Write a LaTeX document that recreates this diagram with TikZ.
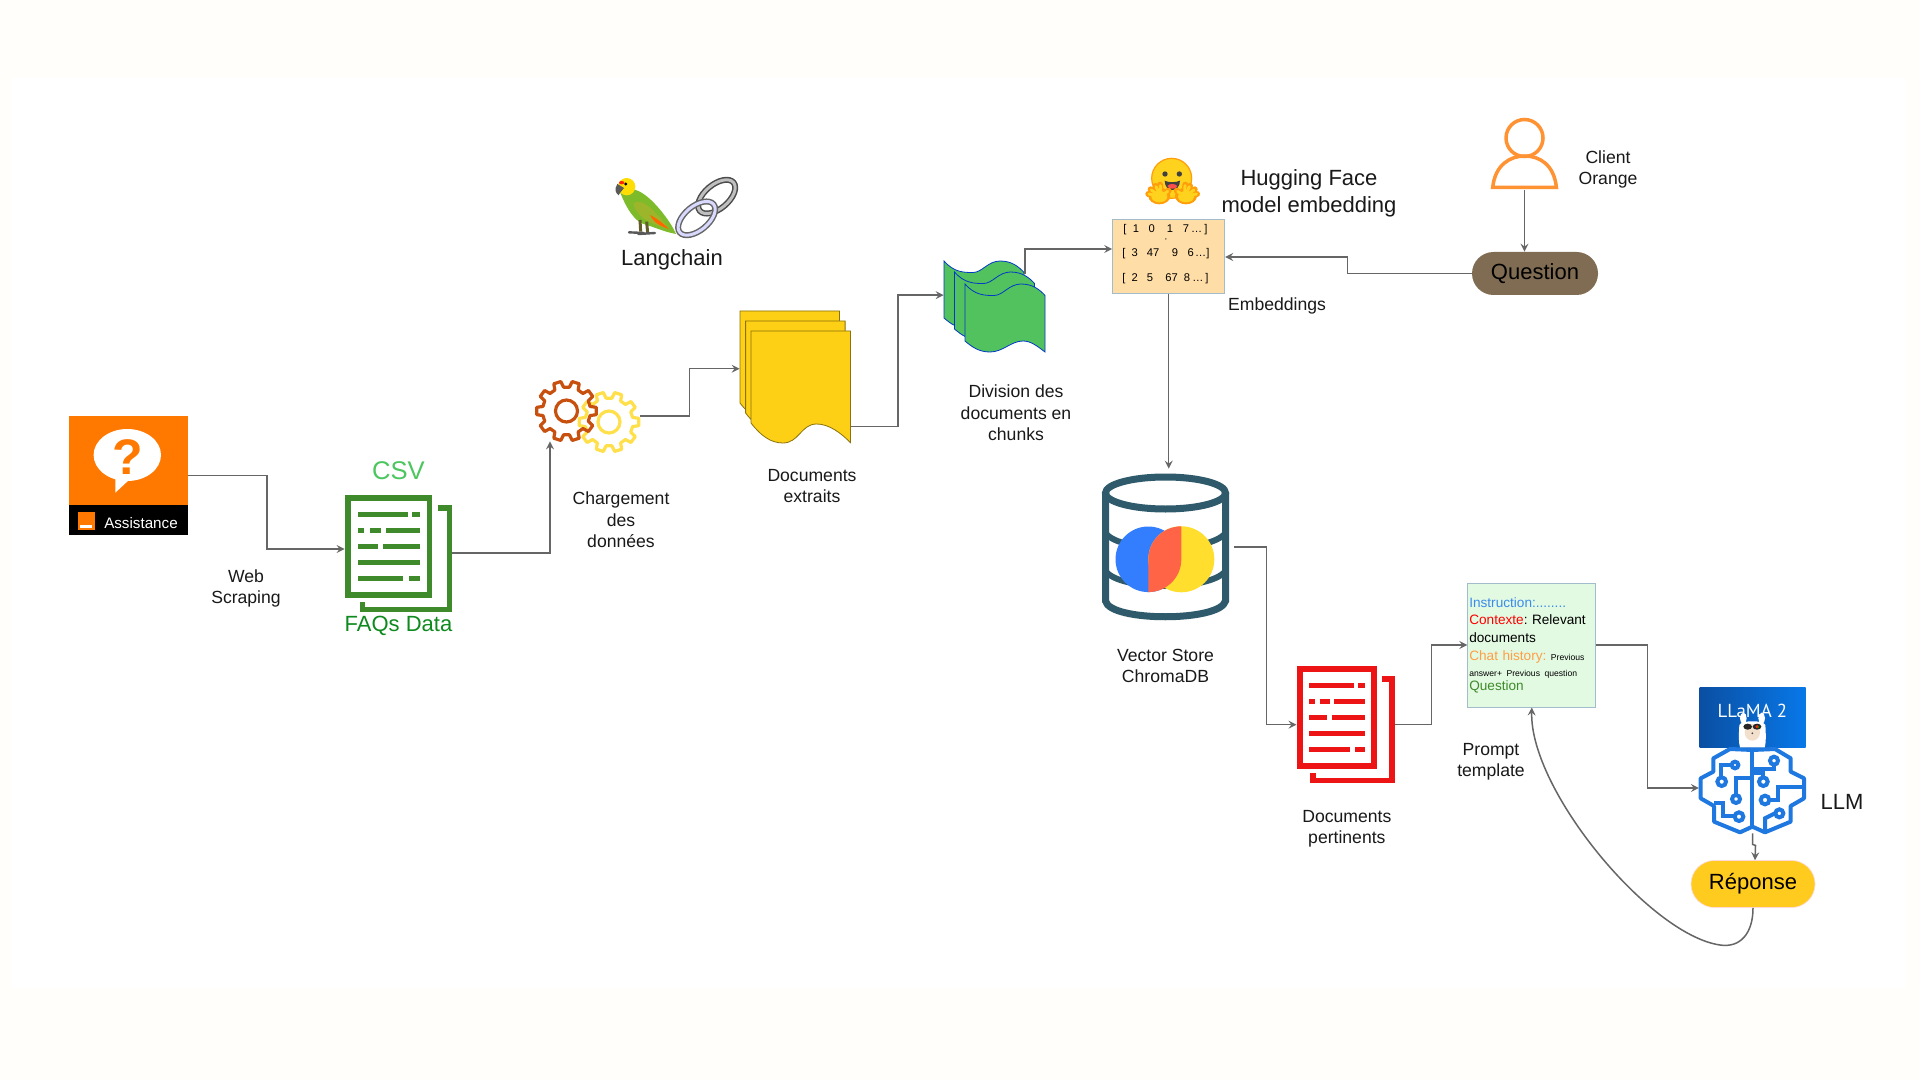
\documentclass[tikz,border=0pt]{standalone}
\usepackage{fontspec}
\setmainfont{Liberation Sans}
\newfontfamily\llamafont{PT Sans}
\usetikzlibrary{arrows}
\usetikzlibrary{positioning}
\usetikzlibrary{shapes.misc}
\definecolor{linegray}{HTML}{666666}
\definecolor{paper}{HTML}{FFFEFB}
\definecolor{orangebox}{HTML}{FF7900}
\definecolor{sheetyellow}{HTML}{FDCF15}
\definecolor{chunkgreen}{HTML}{52C25F}
\definecolor{dbteal}{HTML}{2E5A6B}
\definecolor{brainblue}{HTML}{1E78E0}
\definecolor{docgreen}{HTML}{3F8A2A}
\definecolor{docred}{HTML}{EC1414}
\definecolor{faqgreen}{HTML}{0E8A1E}
\definecolor{csvgreen}{HTML}{4CC65F}
\definecolor{gearred}{HTML}{C8500F}
\definecolor{gearyellow}{HTML}{FFE04A}
\definecolor{personorange}{HTML}{FF9233}
\definecolor{pillbrown}{HTML}{7F6C52}
\definecolor{pillyellow}{HTML}{FFCB1F}
\definecolor{vecfill}{HTML}{FFDDA6}
\definecolor{promptfill}{HTML}{E2F9E2}
\definecolor{boxedge}{HTML}{A3BCCB}
\definecolor{chromablue}{HTML}{327EFF}
\definecolor{chromayellow}{HTML}{FFDE2D}
\definecolor{chromared}{HTML}{FF6446}
\definecolor{instrblue}{HTML}{3B8BEB}
\definecolor{chatorange}{HTML}{FF9F45}
\definecolor{llamadark}{HTML}{0A4FA3}
\definecolor{llamalight}{HTML}{0878E8}
\definecolor{hfyellow}{HTML}{FFD21E}
\definecolor{hforange}{HTML}{FF9D0B}
\definecolor{parrotgreen}{HTML}{7DBB2B}
\definecolor{parrotwing}{HTML}{9DB52A}
\tikzset{
  conn/.style={-stealth, draw=linegray, line width=.75pt},
  iconbox/.style n args={2}{rectangle, inner sep=0pt, minimum width=#1*.5pt, minimum height=#2*.5pt},
  lbl/.style={font=\fontsize{8.8}{10.65}\selectfont, align=center, inner sep=0pt, text=black!90},
  biglbl/.style={font=\fontsize{11}{13.5}\selectfont, align=center, inner sep=0pt, text=black!90},
  pill/.style={rounded rectangle, inner sep=0pt, font=\fontsize{11}{13.5}\selectfont, text=black},
  vectxt/.style={inner sep=0pt, text height=4pt, text depth=0pt, font=\fontsize{5.6}{6}\selectfont}
}
\newcommand{\dotrun}{.\kern.2pt.\kern.2pt.}
\newcommand{\docicon}[4]{
  \begin{scope}[shift={(#1,#2)}, xscale=#3]
    \draw [#4, line width=2.75pt] (2.75,2.75) rectangle (77,100);
    \draw [#4, line width=2.75pt] (84.7,12.75) -- (95,12.75) -- (95,114.6) -- (15.75,114.6) -- (15.75,107);
    \foreach \y/\a/\b in {19.7/12/57, 19.7/61/68, 35.7/12/17.7, 35.7/22.7/33, 35.7/37/68,
        51.7/12/30, 51.7/34.7/68, 67.7/12/68, 83.7/12/53, 83.7/58/68}
      \draw [#4, line width=2.5pt] (\a,\y) -- (\b,\y);
  \end{scope}
}
\newcommand{\sheet}[2]{
  \begin{scope}[shift={(#1,#2)}]
    \draw [fill=sheetyellow, draw=black!45!sheetyellow, line width=.4pt] (0,0) -- (99.5,0) -- (99.5,111.7)
      .. controls (90,102) and (78,93) .. (65.6,93)
      .. controls (50,93) and (48,112) .. (32,112)
      .. controls (20,112) and (10,105) .. (0,92) -- cycle;
  \end{scope}
}
\newcommand{\wave}[2]{
  \begin{scope}[shift={(#1,#2)}]
    \draw [fill=chunkgreen, draw=blue!55!teal, line width=.4pt] (0,0)
      .. controls (10,11.5) and (20,11.5) .. (29,11.5)
      .. controls (38,11.5) and (44,0) .. (56,0)
      .. controls (68,0) and (75,6) .. (80,11.5)
      -- (80,68)
      .. controls (72,62) and (66,57) .. (58,57)
      .. controls (46,57) and (38,68) .. (25,68)
      .. controls (14,68) and (7,63) .. (0,57) -- cycle;
  \end{scope}
}
\newcommand{\gearicon}[3]{
  \begin{scope}[shift={(#1,#2)}]
    \draw [#3, line width=1.6pt, line join=round] (-11:24)
      \foreach \a in {0,36,...,324} { -- (\a-11:24) -- (\a-7:30) -- (\a+7:30) -- (\a+11:24) } -- cycle;
    \draw [#3, line width=1.6pt] (0,0) circle [radius=11];
  \end{scope}
}
\frenchspacing
\begin{document}
\begin{tikzpicture}[x=.5pt, y=-.5pt, node distance=5mm]
  \useasboundingbox (0,0) rectangle (1920,1080);
  \fill [paper] (0,0) rectangle (1920,1080);
  \fill [white] (12,78) rectangle (1906,988);

  \node [iconbox={119}{119}, fill=orangebox] (assist) at (128.5,475.5) {};
  \fill [black] (69,505) rectangle (188,535);
  \fill [orangebox] (78,512) rectangle (95,530);
  \fill [white] (80,525) rectangle (92,527.5);
  \node [inner sep=0pt, text=white, font=\fontsize{7.6}{9}\selectfont] (assistlbl) at (141,523) {Assistance};
  \fill [white] (127.3,455) ellipse [x radius=33.7, y radius=26];
  \fill [white] (115.3,478) -- (115.3,492.7) -- (129,480) -- cycle;
  \node [inner sep=0pt, text=orangebox, font=\fontsize{25}{25}\bfseries\selectfont] (qmark) at (127.5,457) {?};

  \docicon{345}{495}{1.1}{docgreen}
  \node [iconbox={107}{116}] (csvdoc) at (398.5,553) {};
  \node [inner sep=0pt, text=csvgreen, font=\fontsize{12.8}{15}\selectfont] (csvlbl) [above=7pt of csvdoc] {CSV};
  \node [inner sep=0pt, text=faqgreen, font=\fontsize{11}{13}\selectfont] (faqlbl) [below=2pt of csvdoc] {FAQs Data};
  \node [lbl] (weblbl) at (246,588.5) {Web\\Scraping};

  \gearicon{609}{422}{gearyellow}
  \gearicon{566.5}{411}{gearred}
  \node [iconbox={62}{60}] (gearredbox) at (566.5,411) {};
  \node [iconbox={62}{60}] (gearyellowbox) at (609,422) {};
  \node [lbl] (chargelbl) at (621,520) {Chargement\\des\\données};

  \sheet{740}{311}
  \sheet{745.6}{321}
  \sheet{751}{331}
  \node [iconbox={110.5}{132}] (docs) at (795.25,377) {};
  \node [lbl] (docslbl) at (812,486) {Documents\\extraits};

  \wave{944}{261}
  \wave{954.5}{272}
  \wave{965}{284}
  \node [iconbox={101}{91}] (chunks) at (994.5,306.5) {};
  \coordinate (chunksout) at (1025,274);
  \node [lbl] (chunkslbl) at (1016,413) {Division des\\documents en\\chunks};

  \node [iconbox={112}{74}, fill=vecfill, draw=boxedge, line width=.5pt] (embed) at (1168.7,257) {};
  \foreach \i/\x/\t in {a/1125/{[}, b/1136/1, c/1151.7/0, d/1170/1, e/1186/7, f/1196.7/\dotrun, g/1206/{]}}
    \node [vectxt] (rowa\i) at (\x,228.7) {\t};
  \node [inner sep=0pt, font=\fontsize{4}{4}\selectfont] (comma) at (1166,240) {,};
  \foreach \i/\x/\t in {a/1124/{[}, b/1134.7/3, c/1153/47, d/1175/9, e/1190.7/6, f/1200.7/\dotrun, g/1208/{]}}
    \node [vectxt] (rowb\i) at (\x,253) {\t};
  \foreach \i/\x/\t in {a/1124/{[}, b/1134.7/2, c/1150/5, d/1171.7/67, e/1187/8, f/1198/\dotrun, g/1207/{]}}
    \node [vectxt] (rowc\i) at (\x,277.7) {\t};
  \node [lbl] (embedlbl) at (1277,306) {Embeddings};
  \node [biglbl] (hflbl) at (1309,193.5) {Hugging Face\\model embedding};

  \begin{scope}[shift={(1130,140)}, scale=1/3]
    \fill [hfyellow, draw=hforange, line width=.6pt] (125,115) circle [radius=60];
    \fill [black!75] (105,102) circle [radius=8] (148,102) circle [radius=8];
    \fill [black!75] (104,122) .. controls (115,128) and (138,128) .. (150,122) .. controls (150,140) and (138,150) .. (127,150) .. controls (115,150) and (104,140) .. (104,122) -- cycle;
    \fill [red!60!pink] (112,138) .. controls (118,130) and (135,130) .. (142,138) .. controls (136,149) and (118,149) .. (112,138) -- cycle;
    \foreach \s in {0,1} {
      \begin{scope}[shift={(\s*256,0)}, xscale=1-2*\s]
        \fill [hforange] (88,168) ellipse [x radius=33, y radius=25];
        \foreach \tipx/\tipy in {55/162, 62/148, 76/138, 90/134, 116/152}
          \draw [hforange, line width=3pt, line cap=round] (92,170) -- (\tipx,\tipy);
        \foreach \tipx/\tipy in {57/162, 64/150, 78/140, 91/137, 113/154}
          \draw [hfyellow, line width=1.5pt, line cap=round] (92,170) -- (\tipx,\tipy);
        \fill [hfyellow] (88,170) ellipse [x radius=24, y radius=17];
      \end{scope}
    }
  \end{scope}

  \begin{scope}[shift={(600,160)}, scale=1/3]
    \fill [parrotgreen] (58,90) .. controls (70,125) and (95,175) .. (125,190) .. controls (160,200) and (190,215) .. (228,222) .. controls (215,190) and (170,130) .. (135,105) .. controls (115,90) and (90,80) .. (58,90) -- cycle;
    \fill [parrotwing] (100,130) .. controls (130,110) and (170,160) .. (208,208) .. controls (170,195) and (110,180) .. (100,130) -- cycle;
    \fill [orange!80!red] (150,165) .. controls (170,175) and (190,190) .. (208,208) .. controls (190,200) and (165,195) .. (150,165) -- cycle;
    \draw [olive!60!black, line width=1.5pt] (120,180) -- (122,215) (140,185) -- (143,220);
    \draw [black!65, line width=1.2pt, line cap=round] (87,217) -- (132,219) (115,222) -- (165,219);
    \fill [yellow!80!orange] (80,80) circle [radius=26];
    \fill [red!70!orange] (65,68) ellipse [x radius=8, y radius=5];
    \fill [black] (77,72) circle [radius=5];
    \fill [black!65] (52,72) .. controls (42,88) and (47,100) .. (56,106) .. controls (60,95) and (68,92) .. (72,84) -- cycle;
    \foreach \cx/\cy/\outer/\inner in {350/110/black!70/black!25, 290/175/black!60/blue!15!white} {
      \draw [\outer, line width=3pt, rotate around={40:(\cx,\cy)}] (\cx,\cy) ellipse [x radius=66, y radius=36];
      \draw [\inner, line width=1.5pt, rotate around={40:(\cx,\cy)}] (\cx,\cy) ellipse [x radius=66, y radius=36];
    }
  \end{scope}
  \node [biglbl] (langlbl) at (672,259.5) {Langchain};

  \draw [personorange, line width=1.75pt] (1524.5,138) circle [radius=18.5];
  \draw [personorange, line width=1.75pt] (1492.7,187.4) -- (1556.4,187.4) .. controls (1554,165) and (1540,156) .. (1524.5,156) .. controls (1510,156) and (1495,165) .. (1492.7,187.4) -- cycle;
  \node [iconbox={64}{70}] (client) at (1524.5,155) {};
  \node [lbl] (clientlbl) at (1608,169.5) {Client\\Orange};
  \node [pill, fill=pillbrown, minimum width=63pt, minimum height=21.5pt] (question) at (1535,273.5) {Question};

  \foreach \y in {533,571}
    \draw [dbteal, line width=3pt] (1105.5,\y) .. controls (1120,\y+20) and (1210,\y+20) .. (1225.5,\y);
  \draw [dbteal, line width=3.5pt] (1165.5,493) ellipse [x radius=60, y radius=16];
  \draw [dbteal, line width=3.5pt] (1105.5,493) -- (1105.5,601) .. controls (1110,622) and (1220,622) .. (1225.5,601) -- (1225.5,493);
  \fill [chromablue] (1148.3,559.3) circle [radius=32.8];
  \fill [chromayellow] (1181.3,559.3) circle [radius=33];
  \fill [chromared] (1181.3,526.3) .. controls (1163,526.3) and (1148.3,541) .. (1148.3,559.3) -- (1148.3,592.1) .. controls (1166.5,592.1) and (1181.3,577.5) .. (1181.3,559.3) -- cycle;
  \node [iconbox={127}{151}] (chroma) at (1165.5,544.5) {};
  \node [lbl] (chromalbl) [below=14pt of chroma] {Vector Store\\ChromaDB};

  \docicon{1297}{666}{1}{docred}
  \node [iconbox={98}{117}] (reddoc) at (1345.85,724.7) {};
  \node [lbl] (reddoclbl) [below=13pt of reddoc, xshift=.5pt] {Documents\\pertinents};

  \node [iconbox={128}{124}, fill=promptfill, draw=boxedge, line width=.5pt, text width=62.5pt, align=left, font=\fontsize{6.8}{8.85}\selectfont] (prompt) at (1531.8,645) {\textcolor{instrblue}{Instruction:........}\\
    \textcolor{red}{Contexte}: Relevant\\
    documents\\
    \textcolor{chatorange}{Chat history:} {\fontsize{4.3}{5}\selectfont Previous}\\[-.85pt]
    {\fontsize{4.3}{5}\selectfont answer+ Previous question}\\[-2pt]
    \textcolor{docgreen}{Question}};
  \node [lbl] (promptlbl) at (1491,762) {Prompt\\template};

  \node [iconbox={106}{59.3}, left color=llamadark, right color=llamalight] (llama) at (1752.7,717.4) {};
  \node [inner sep=0pt, text=white, font=\fontsize{9.4}{10}\llamafont\selectfont] (llamalbl) at (1752.3,710.7) {LLaMA 2};
  \begin{scope}[shift={(1660,670)}, scale=1/3]
    \draw [brainblue, line width=2pt, line join=round] (277,240) -- (210,237) -- (160,265) -- (160,305) -- (122,325) -- (122,385) -- (162,408) -- (162,455) -- (240,487) -- (277,470) -- (315,487) -- (392,455) -- (392,408) -- (432,385) -- (432,325) -- (392,305) -- (392,265) -- (345,237) -- cycle;
    \draw [brainblue, line width=2pt] (277,240) -- (277,478);
    \draw [brainblue, line width=2pt] (215,285) -- (182,285) -- (182,322);
    \draw [brainblue, line width=2pt] (228,375) -- (228,325) -- (277,325);
    \draw [brainblue, line width=2pt] (162,400) -- (190,400) -- (190,438) -- (224,438);
    \draw [brainblue, line width=2pt] (342,285) -- (342,297) -- (277,297);
    \draw [brainblue, line width=2pt] (310,322) -- (310,310) -- (277,310);
    \draw [brainblue, line width=2pt] (330,390) -- (355,390) -- (355,352) -- (432,352);
    \draw [brainblue, line width=2pt] (345,430) -- (315,445) -- (315,482);
    \foreach \cx/\cy/\r in {225/285/10, 185/335/13, 228/387/12, 237/440/13, 342/272/12, 310/335/13, 315/390/13, 358/430/12}
      \draw [brainblue, line width=2pt] (\cx,\cy) circle [radius=\r];
    \fill [white] (238,165) .. controls (236,195) and (236,220) .. (240,232) -- (314,232) .. controls (318,220) and (318,195) .. (316,165) .. controls (310,150) and (245,150) .. (238,165) -- cycle;
    \fill [white] (250,145) ellipse [x radius=10, y radius=17];
    \fill [white] (305,145) ellipse [x radius=10, y radius=17];
    \fill [orange!20!brown!25!white] (277,187) ellipse [x radius=23, y radius=25];
    \fill [black!85] (263,170) ellipse [x radius=13, y radius=9];
    \fill [black!85] (291,170) ellipse [x radius=13, y radius=9];
    \fill [red!70!orange] (291,170) circle [radius=5];
    \fill [green!60!black] (295,171) circle [radius=3];
    \fill [black!70] (277,190) circle [radius=3];
  \end{scope}
  \node [iconbox={106.4}{86}] (brain) at (1752.5,790) {};
  \node [biglbl] (llmlbl) at (1842,802) {LLM};
  \node [pill, fill=pillyellow, draw=pink!60, line width=.3pt, minimum width=62pt, minimum height=23.5pt] (reponse) at (1753,884) {Réponse};
  \coordinate (loopbottom) at (1720,945);

  \draw [conn] (assist.east) -- ++(78.5,0) |- ([yshift=2pt]csvdoc.west);
  \draw [conn] (csvdoc.east) -| ([xshift=-8.25pt]gearredbox.south);
  \draw [conn] ([yshift=3pt]gearyellowbox.east) -- ++(49,0) |- ([yshift=4.15pt]docs.west);
  \draw [conn] ([yshift=8.5pt]docs.south east) -- ++(47,0) |- ([yshift=5.7pt]chunks.west);
  \draw [conn] (chunksout) |- ([yshift=4pt]embed.west);
  \draw [conn] (question.west) -- ++(-124,0) |- (embed.east);
  \draw [conn] (embed.south) -- (embed.south |- chroma.north);
  \draw [conn] ([xshift=2.5pt,yshift=-1.25pt]chroma.east) -- ++(32,0) |- (reddoc.west);
  \draw [conn] (reddoc.east) -- ++(36.3,0) |- (prompt.west);
  \draw [conn] (prompt.east) -- ++(51.3,0) |- ([yshift=1pt]brain.west);
  \draw [conn] (brain.south) -- ++(0,11) -- ++(3,1) -- ([xshift=1pt]reponse.north);
  \draw [conn] (client.south) -- (client.south |- question.north);
  \draw [conn] (reponse.south) .. controls +(0,26) and +(20,3) .. (loopbottom) .. controls +(-70,-10) and +(-2,83) .. (prompt.south);
\end{tikzpicture}
\end{document}
